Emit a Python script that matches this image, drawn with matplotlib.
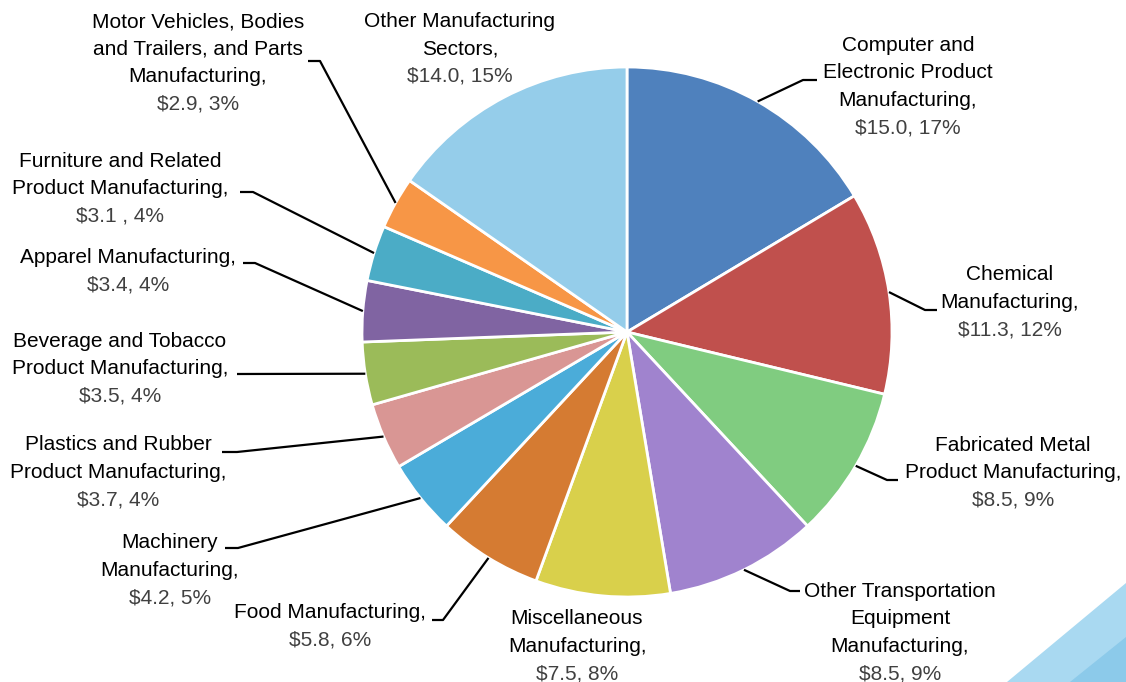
import matplotlib
matplotlib.use("Agg")
import matplotlib.pyplot as plt
import numpy as np

W, H = 1126, 682

sectors = [
    "Computer and\nElectronic Product\nManufacturing,",
    "Chemical\nManufacturing,",
    "Fabricated Metal\nProduct Manufacturing,",
    "Other Transportation\nEquipment\nManufacturing,",
    "Miscellaneous\nManufacturing,",
    "Food Manufacturing,",
    "Machinery\nManufacturing,",
    "Plastics and Rubber\nProduct Manufacturing,",
    "Beverage and Tobacco\nProduct Manufacturing,",
    "Apparel Manufacturing,",
    "Furniture and Related\nProduct Manufacturing,",
    "Motor Vehicles, Bodies\nand Trailers, and Parts\nManufacturing,",
    "Other Manufacturing\nSectors,",
]
values = [15.0, 11.3, 8.5, 8.5, 7.5, 5.8, 4.2, 3.7, 3.5, 3.4, 3.1, 2.9, 14.0]
value_labels = ["$15.0, 17%", "$11.3, 12%", "$8.5, 9%", "$8.5, 9%", "$7.5, 8%",
                "$5.8, 6%", "$4.2, 5%", "$3.7, 4%", "$3.5, 4%", "$3.4, 4%",
                "$3.1 , 4%", "$2.9, 3%", "$14.0, 15%"]
colors = ["#4F81BD", "#C0504D", "#80CC80", "#A083CE", "#D9D04B", "#D57B32",
          "#4BACD9", "#D99694", "#9BBB59", "#8064A2", "#4BACC6", "#F79646",
          "#95CDEA"]

# label layout in pixels (y down): centre x, first line centre y
label_pos = [(908, 44), (1010, 273), (1013, 444), (900, 590), (577, 617),
             (330, 611), (170, 541), (118, 443), (120, 340), (128, 256),
             (120, 160), (198, 20), (460, 20)]
# leader lines: points from the text side up to the elbow (pixels, y down)
leaders = [
    [(817, 80), (803, 80)],
    [(937, 310), (925, 310)],
    [(898, 480), (887, 480)],
    [(800, 591), (790, 591)],
    None,
    [(432, 620), (443, 620)],
    [(225, 548), (238, 548)],
    [(222, 452), (237, 452)],
    [(237, 374)],
    [(243, 263), (255, 263)],
    [(240, 192), (253, 192)],
    [(308, 61), (320, 61)],
    None,
]

font = ["Liberation Sans Narrow", "Liberation Sans", "DejaVu Sans"]
line_h = 27.5

fig = plt.figure(figsize=(W / 100, H / 100), dpi=100)
ax = fig.add_axes([0, 0, 1, 1])

cx, cy, r = 627, H - 332, 265

# background corner stripes
ax.add_patch(plt.Polygon([(1007, 0), (1126, H - 583), (1126, 0)],
                         closed=True, color="#A9D9F1", lw=0, zorder=0))
ax.add_patch(plt.Polygon([(1070, 0), (1126, H - 637), (1126, 0)],
                         closed=True, color="#8CCAEA", lw=0, zorder=0))

wedges, _ = ax.pie(values, colors=colors, startangle=90, counterclock=False,
                   center=(cx, cy), radius=r,
                   wedgeprops=dict(edgecolor="white", linewidth=2))

for i, w in enumerate(wedges):
    x0, y0 = label_pos[i]
    lines = sectors[i].split("\n")
    for k, ln in enumerate(lines):
        ax.text(x0, H - (y0 + k * line_h + 7), ln, ha="center", va="baseline",
                fontsize=15, family=font, color="#000000")
    ax.text(x0, H - (y0 + len(lines) * line_h + 7), value_labels[i],
            ha="center", va="baseline", fontsize=15, family=font,
            color="#404040")

    if leaders[i] is not None:
        mid = np.deg2rad((w.theta1 + w.theta2) / 2)
        ax_pt = (cx + r * np.cos(mid), cy + r * np.sin(mid))
        xs = [p[0] for p in leaders[i]] + [ax_pt[0]]
        ys = [H - p[1] for p in leaders[i]] + [ax_pt[1]]
        ax.plot(xs, ys, color="black", lw=1.6, solid_capstyle="butt")

ax.set_xlim(0, W)
ax.set_ylim(0, H)
ax.set_aspect("equal")
ax.axis("off")

fig.savefig("out.png", dpi=100)
